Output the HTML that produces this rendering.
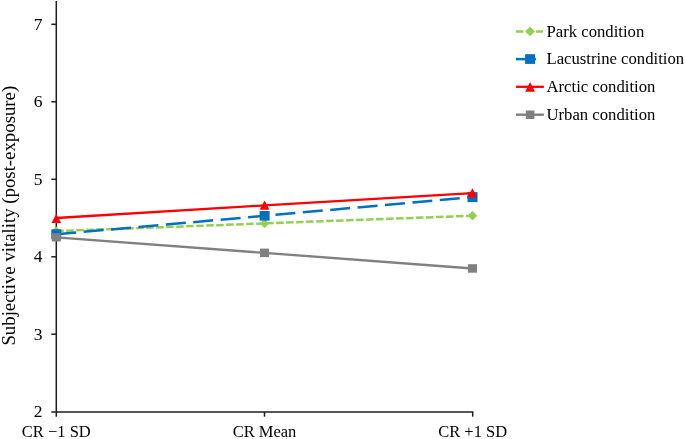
<!DOCTYPE html>
<html>
<head>
<meta charset="utf-8">
<style>
html,body{margin:0;padding:0;background:#fff;width:685px;height:439px;overflow:hidden;}
svg{display:block;}
text{font-family:"Liberation Serif",serif;fill:#000;}
svg{will-change:transform;}
</style>
</head>
<body>
<svg width="685" height="439" viewBox="0 0 685 439" xmlns="http://www.w3.org/2000/svg">
  <!-- axes -->
  <g stroke="#1e1e1e" stroke-width="1.5" fill="none">
    <line x1="56.3" y1="1" x2="56.3" y2="416.7"/>
    <line x1="51.3" y1="411.9" x2="473.4" y2="411.9"/>
    <line x1="472.7" y1="411.9" x2="472.7" y2="416.7"/>
    <line x1="264.5" y1="411.9" x2="264.5" y2="416.7"/>
    <line x1="51.3" y1="24.3" x2="56.3" y2="24.3"/>
    <line x1="51.3" y1="101.8" x2="56.3" y2="101.8"/>
    <line x1="51.3" y1="179.3" x2="56.3" y2="179.3"/>
    <line x1="51.3" y1="256.8" x2="56.3" y2="256.8"/>
    <line x1="51.3" y1="334.2" x2="56.3" y2="334.2"/>
  </g>
  <!-- y tick labels -->
  <g font-size="17.5" text-anchor="end">
    <text x="42.5" y="29.7">7</text>
    <text x="42.5" y="107.2">6</text>
    <text x="42.5" y="184.7">5</text>
    <text x="42.5" y="262.2">4</text>
    <text x="42.5" y="339.6">3</text>
    <text x="42.5" y="417.1">2</text>
  </g>
  <!-- x labels -->
  <g font-size="16.5" text-anchor="middle">
    <text x="56.3" y="437">CR &#8722;1 SD</text>
    <text x="264.5" y="437">CR Mean</text>
    <text x="472.7" y="437">CR +1 SD</text>
  </g>
  <!-- y axis title -->
  <text font-size="18.8" text-anchor="middle" transform="translate(15.3,215.7) rotate(-90)">Subjective vitality (post-exposure)</text>

  <!-- series: park -->
  <polyline points="56.3,231.1 264.6,223.4 472.5,215.7" fill="none" stroke="#92D050" stroke-width="2.5" stroke-dasharray="7.5 2.5"/>
  <g fill="#92D050">
    <path d="M56.3,226.4 L61,231.1 L56.3,235.8 L51.6,231.1 Z"/>
    <path d="M264.6,218.7 L269.3,223.4 L264.6,228.1 L259.9,223.4 Z"/>
    <path d="M472.5,211 L477.2,215.7 L472.5,220.4 L467.8,215.7 Z"/>
  </g>
  <!-- lacustrine -->
  <polyline points="56.3,234.3 264.6,215.8 472.5,197.1" fill="none" stroke="#0070C0" stroke-width="2.5" stroke-dasharray="20 7.5"/>
  <g fill="#0070C0">
    <rect x="51.3" y="229.3" width="10" height="10"/>
    <rect x="259.6" y="211" width="10" height="9.6"/>
    <rect x="467.5" y="192.1" width="10" height="10"/>
  </g>
  <!-- arctic -->
  <polyline points="56.3,218 264.6,205.4 472.5,193.2" fill="none" stroke="#FF0000" stroke-width="2.3"/>
  <g fill="#FF0000">
    <path d="M56.3,213.9 L61.2,223 L51.4,223 Z"/>
    <path d="M264.6,200.6 L269.5,209.8 L259.7,209.8 Z"/>
    <path d="M472.4,188.2 L477.3,197.5 L467.5,197.5 Z"/>
  </g>
  <!-- urban -->
  <polyline points="56.3,237.4 264.5,252.9 472.5,268.5" fill="none" stroke="#808080" stroke-width="2.4"/>
  <g fill="#808080">
    <rect x="51.8" y="233.2" width="9" height="8.3"/>
    <rect x="260" y="248.6" width="9" height="8.5"/>
    <rect x="468" y="264.2" width="9" height="8.5"/>
  </g>

  <!-- legend -->
  <g>
    <line x1="515.9" y1="31.4" x2="543" y2="31.4" stroke="#92D050" stroke-width="2.5" stroke-dasharray="7.5 2.5"/>
    <path d="M530.1,26.6 L535,31.4 L530.1,36.2 L525.2,31.4 Z" fill="#92D050"/>
    <line x1="515.9" y1="59.1" x2="543" y2="59.1" stroke="#0070C0" stroke-width="2.5" stroke-dasharray="20 7.5"/>
    <rect x="525.1" y="54.2" width="10" height="9.7" fill="#0070C0"/>
    <line x1="515.9" y1="86.8" x2="543.9" y2="86.8" stroke="#FF0000" stroke-width="2.3"/>
    <path d="M530.1,82.1 L535,91.7 L525.2,91.7 Z" fill="#FF0000"/>
    <line x1="515.9" y1="114.7" x2="543.9" y2="114.7" stroke="#808080" stroke-width="2.4"/>
    <rect x="525.8" y="110.5" width="8.6" height="8.5" fill="#808080"/>
  </g>
  <g font-size="16.7">
    <text x="546.5" y="36.7">Park condition</text>
    <text x="546.5" y="64.4">Lacustrine condition</text>
    <text x="546.5" y="92.1">Arctic condition</text>
    <text x="546.5" y="119.9">Urban condition</text>
  </g>
</svg>
</body>
</html>
